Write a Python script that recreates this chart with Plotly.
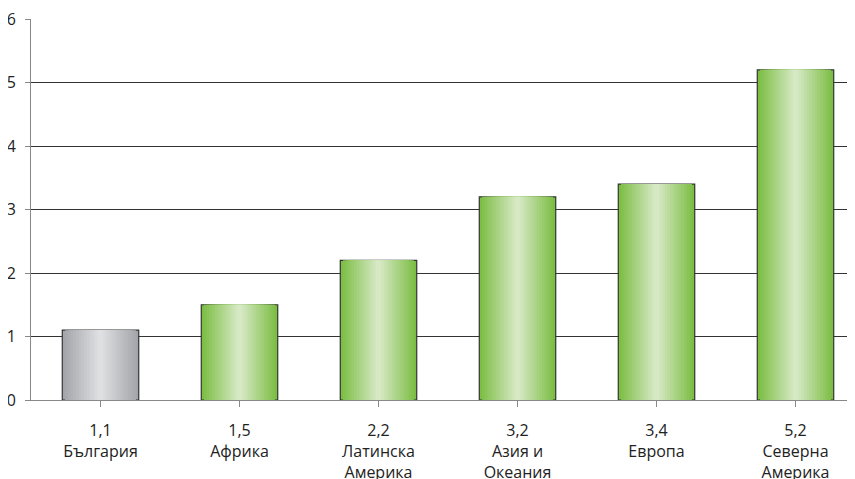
import plotly.graph_objects as go

categories = ["България", "Африка", "Латинска<br>Америка", "Азия и<br>Океания", "Европа", "Северна<br>Америка"]
values = [1.1, 1.5, 2.2, 3.2, 3.4, 5.2]
value_labels = ["1,1", "1,5", "2,2", "3,2", "3,4", "5,2"]
is_bulgaria = [True, False, False, False, False, False]

green_edge = (124, 190, 68)
green_center = (214, 232, 196)
gray_edge = (164, 165, 170)
gray_center = (222, 223, 225)

def mix(a, b, t):
    return "rgb(%d,%d,%d)" % tuple(round(a[k] + (b[k] - a[k]) * t) for k in range(3))

ticktext = [f"{v}<br>{c}" for v, c in zip(value_labels, categories)]
x = list(range(len(values)))

fig = go.Figure()
N = 14
W = 0.55
for i in range(N):
    t = i / (N - 1)
    w = W * (1 - i / N)
    colors = [mix(gray_edge, gray_center, t) if g else mix(green_edge, green_center, t) for g in is_bulgaria]
    fig.add_trace(go.Bar(
        x=x, y=values, width=w,
        marker=dict(color=colors,
                    line=dict(color="#333333", width=1.2 if i == 0 else 0)),
        showlegend=False, hoverinfo="skip" if i else "y",
    ))

fig.update_layout(
    width=857, height=479,
    margin=dict(l=23, r=0, t=11, b=87),
    barmode="overlay",
    plot_bgcolor="white", paper_bgcolor="white",
    font=dict(family="Open Sans, Noto Sans, sans-serif", size=16, color="#222222"),
    xaxis=dict(
        tickmode="array", tickvals=x, ticktext=ticktext,
        range=[-0.5, 5.5],
        automargin=False,
        ticklabeloverflow="allow",
        showline=True, linecolor="#888888", linewidth=1,
        ticks="outside", tickson="boundaries", ticklen=6, tickcolor="#888888",
        ticklabelstandoff=10,
        showgrid=False, zeroline=False,
        tickfont=dict(size=16),
    ),
    yaxis=dict(
        range=[0, 6], dtick=1,
        automargin=False,
        ticklabeloverflow="allow",
        showline=True, linecolor="#888888", linewidth=1,
        ticks="outside", ticklen=5, tickcolor="#888888",
        ticklabelstandoff=6,
        showgrid=True, gridcolor="#333333", gridwidth=1,
        zeroline=False,
        tickfont=dict(size=16),
    ),
)

fig.write_html("out.html")
